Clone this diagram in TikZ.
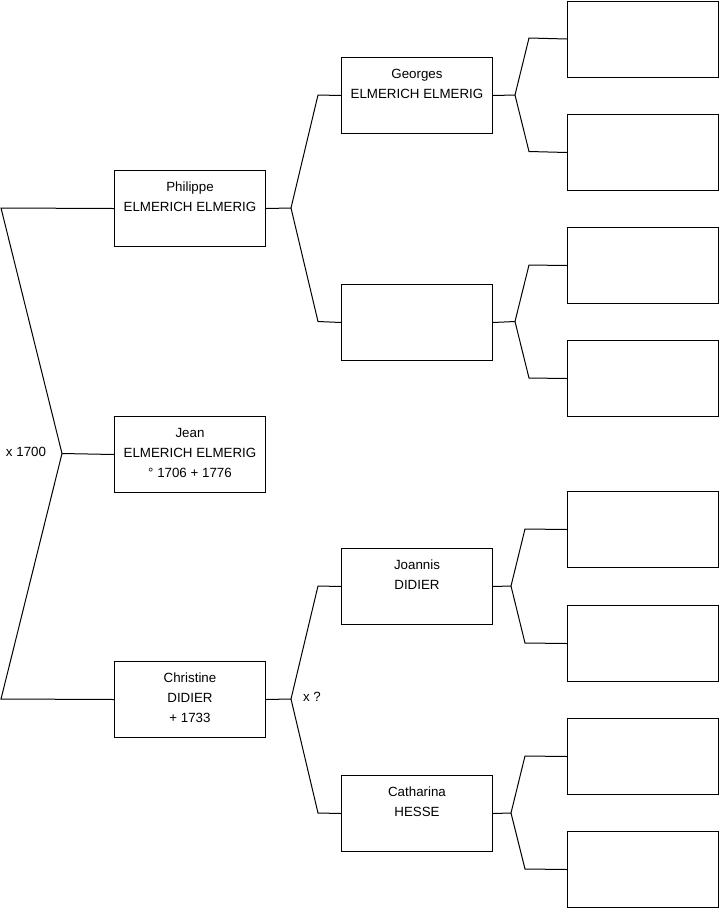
\documentclass[tikz,border=0pt]{standalone}
\usepackage{fontspec}
\setmainfont{Liberation Sans}
\begin{document}
\begin{tikzpicture}[x=0.75pt,y=-0.75pt,
  line width=0.75pt,
  pbox/.style={draw=black,line width=0.75pt,minimum width=151*0.75pt,minimum height=76*0.75pt,inner sep=0pt,anchor=north west},
  ptext/.style={anchor=north,inner sep=0pt,align=center,font=\fontsize{10}{15}\selectfont},
  lbl/.style={inner sep=0pt,font=\fontsize{10}{12}\selectfont},
  conn/.style={draw=black,line width=0.75pt,line join=miter}]
\useasboundingbox (0,0) rectangle (719,908);
% level 1
\node[pbox] (p1) at (114,170) {};
\node[pbox] (p2) at (114,416) {};
\node[pbox] (p3) at (114,661) {};
% level 2
\node[pbox] (g1) at (341,57) {};
\node[pbox] (g2) at (341,284) {};
\node[pbox] (g3) at (341,548) {};
\node[pbox] (g4) at (341,775) {};
% level 3
\node[pbox] (h1) at (567,0.5) {};
\node[pbox] (h2) at (567,114) {};
\node[pbox] (h3) at (567,227) {};
\node[pbox] (h4) at (567,340) {};
\node[pbox] (h5) at (567,491) {};
\node[pbox] (h6) at (567,605) {};
\node[pbox] (h7) at (567,718) {};
\node[pbox] (h8) at (567,831) {};
% texts
\node[ptext] (t1) at ([yshift=-7.7*0.75pt]p1.north) {\rule{0pt}{10pt}Philippe\\ELMERICH ELMERIG};
\node[ptext] (t2) at ([yshift=-7.7*0.75pt]p2.north) {\rule{0pt}{10pt}Jean\\ELMERICH ELMERIG\\° 1706 + 1776};
\node[ptext] (t3) at ([yshift=-7.7*0.75pt]p3.north) {\rule{0pt}{10pt}Christine\\DIDIER\\ + 1733};
\node[ptext] (t4) at ([yshift=-7.7*0.75pt]g1.north) {\rule{0pt}{10pt}Georges\\ELMERICH ELMERIG};
\node[ptext] (t6) at ([yshift=-7.7*0.75pt]g3.north) {\rule{0pt}{10pt}Joannis\\DIDIER};
\node[ptext] (t7) at ([yshift=-7.7*0.75pt]g4.north) {\rule{0pt}{10pt}Catharina\\HESSE};
\node[lbl] (m1) at (26,452) {x 1700};
\node[lbl] (m2) at (312,697) {x ?};
% fork coordinates
\coordinate (f0) at (62,453.5);
\coordinate (a0) at (1,208);
\coordinate (b0) at (1,699);
\coordinate (f1) at (291,208);
\coordinate (a1) at (318,95);
\coordinate (b1) at (318,321.5);
\coordinate (f3) at (291,699);
\coordinate (a3) at (318,586);
\coordinate (b3) at (318,813);
\coordinate (f4) at (515,95);
\coordinate (a4) at (529,38);
\coordinate (b4) at (529,151.5);
\coordinate (f5) at (515,321.5);
\coordinate (a5) at (529,265);
\coordinate (b5) at (529,378);
\coordinate (f6) at (511,586);
\coordinate (a6) at (525,529);
\coordinate (b6) at (525,643);
\coordinate (f7) at (511,813);
\coordinate (a7) at (525,756);
\coordinate (b7) at (525,869);
% connectors
\draw[conn] (p1.west) -- (a0) -- (f0) -- (b0) -- (p3.west);
\draw[conn] (f0) -- (p2.west);
\draw[conn] (g1.west) -- (a1) -- (f1) -- (b1) -- (g2.west);
\draw[conn] (f1) -- (p1.east);
\draw[conn] (g3.west) -- (a3) -- (f3) -- (b3) -- (g4.west);
\draw[conn] (f3) -- (p3.east);
\draw[conn] (h1.west) -- (a4) -- (f4) -- (b4) -- (h2.west);
\draw[conn] (f4) -- (g1.east);
\draw[conn] (h3.west) -- (a5) -- (f5) -- (b5) -- (h4.west);
\draw[conn] (f5) -- (g2.east);
\draw[conn] (h5.west) -- (a6) -- (f6) -- (b6) -- (h6.west);
\draw[conn] (f6) -- (g3.east);
\draw[conn] (h7.west) -- (a7) -- (f7) -- (b7) -- (h8.west);
\draw[conn] (f7) -- (g4.east);
\end{tikzpicture}
\end{document}
